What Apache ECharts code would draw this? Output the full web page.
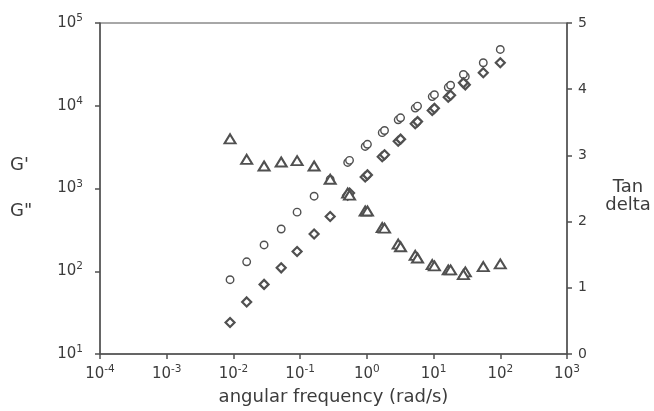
<!DOCTYPE html>
<html>
<head>
<meta charset="utf-8">
<script src="https://cdn.jsdelivr.net/npm/echarts@6/dist/echarts.min.js"></script>
<style>
html,body{margin:0;padding:0;background:#fff;}
#c{width:654px;height:411px;}
</style>
</head>
<body>
<div id="c"></div>
<script>
// Run 1 (all frequencies)
var freq1 = [0.0089, 0.0158, 0.0288, 0.052, 0.090, 0.162, 0.282, 0.516, 0.944, 1.70, 2.95, 5.31, 9.55, 16.6, 29.9, 55.6, 100];
var gPrime1 = [79, 130, 208, 324, 518, 807, 1290, 2065, 3220, 4730, 6760, 9370, 12900, 16700, 22600, 33100, 47900];
var gDouble1 = [24, 42.6, 69.4, 110, 173, 282, 459, 828, 1375, 2415, 3720, 6070, 8770, 12700, 17900, 25100, 33100];
var tanDelta1 = [3.25, 2.94, 2.84, 2.90, 2.92, 2.84, 2.64, 2.43, 2.16, 1.91, 1.66, 1.49, 1.35, 1.27, 1.24, 1.32, 1.36];
// Run 2 (replicate, mid frequencies)
var freq2 = [0.55, 1.02, 1.84, 3.2, 5.75, 10.3, 18.0, 28.0];
var gPrime2 = [2190, 3420, 5020, 7150, 9900, 13600, 17700, 23900];
var gDouble2 = [880, 1460, 2560, 3950, 6430, 9300, 13400, 18900];
var tanDelta2 = [2.40, 2.16, 1.90, 1.62, 1.45, 1.33, 1.27, 1.20];

function pairs(xs, ys){ return xs.map(function(x,i){ return [x, ys[i]]; }); }

var ink = '#505050';
var textCol = '#3c3c3c';
var font = '"DejaVu Sans", Arial, sans-serif';

function powLabel(v){
  var e = Math.round(Math.log10(v));
  return '{b|10}{s|' + String(e).replace('\u2212','-') + '}';
}
var richLab = {
  b: {fontSize: 15, color: textCol, fontFamily: font},
  s: {fontSize: 10.5, color: textCol, fontFamily: font, padding: [0,0,9,0]}
};

var markerStyle = function(bw){
  return {color: '#ffffff', borderColor: ink, borderWidth: bw, opacity: 1};
};

var chart = echarts.init(document.getElementById('c'), null, {renderer: 'canvas'});
chart.setOption({
  animation: false,
  backgroundColor: '#ffffff',
  textStyle: {fontFamily: font},
  grid: {left: 100, right: 87, top: 23, bottom: 55, show: true, borderColor: ink, borderWidth: 1, backgroundColor: 'transparent'},
  xAxis: {
    type: 'log', logBase: 10, min: 1e-4, max: 1e3,
    name: 'angular frequency (rad/s)', nameLocation: 'middle', nameGap: 34,
    nameTextStyle: {fontSize: 18, color: textCol, fontFamily: font},
    axisLine: {show: true, lineStyle: {color: ink, width: 1.5}},
    axisTick: {show: true, inside: false, length: 5, lineStyle: {color: ink, width: 1.5}},
    minorTick: {show: false},
    splitLine: {show: false},
    axisLabel: {margin: 10, formatter: powLabel, rich: richLab}
  },
  yAxis: [{
    type: 'log', logBase: 10, min: 10, max: 1e5,
    position: 'left',
    axisLine: {show: true, lineStyle: {color: ink, width: 1.5}},
    axisTick: {show: true, inside: false, length: 5, lineStyle: {color: ink, width: 1.5}},
    splitLine: {show: false},
    axisLabel: {margin: 17, formatter: powLabel, rich: richLab}
  }, {
    type: 'value', min: 0, max: 5, interval: 1,
    position: 'right',
    axisLine: {show: true, lineStyle: {color: ink, width: 1.5}},
    axisTick: {show: true, inside: false, length: 5, lineStyle: {color: ink, width: 1.5}},
    splitLine: {show: false},
    axisLabel: {margin: 11, fontSize: 14, color: textCol, fontFamily: font}
  }],
  series: [
    {name: "G'", type: 'scatter', yAxisIndex: 0, symbol: 'circle', symbolSize: 7.5,
      itemStyle: markerStyle(1.4), data: pairs(freq1, gPrime1)},
    {name: "G'", type: 'scatter', yAxisIndex: 0, symbol: 'circle', symbolSize: 7.5,
      itemStyle: markerStyle(1.4), data: pairs(freq2, gPrime2)},
    {name: "G''", type: 'scatter', yAxisIndex: 0, symbol: 'diamond', symbolSize: [9, 9],
      itemStyle: markerStyle(2.2), data: pairs(freq1, gDouble1)},
    {name: "G''", type: 'scatter', yAxisIndex: 0, symbol: 'diamond', symbolSize: [9, 9],
      itemStyle: markerStyle(2.2), data: pairs(freq2, gDouble2)},
    {name: 'Tan delta', type: 'scatter', yAxisIndex: 1, symbol: 'triangle', symbolSize: [11, 9],
      itemStyle: markerStyle(2), data: pairs(freq1, tanDelta1)},
    {name: 'Tan delta', type: 'scatter', yAxisIndex: 1, symbol: 'triangle', symbolSize: [11, 9],
      itemStyle: markerStyle(2), data: pairs(freq2, tanDelta2)}
  ],
  graphic: [
    {type: 'text', x: 10, y: 156, style: {text: "G'", fontSize: 18, fill: textCol, fontFamily: font}},
    {type: 'text', x: 10, y: 202, style: {text: 'G"', fontSize: 18, fill: textCol, fontFamily: font}},
    {type: 'text', x: 628, y: 178, style: {text: 'Tan\ndelta', fontSize: 18, lineHeight: 18, fill: textCol, fontFamily: font, align: 'center'}}
  ]
});
</script>
</body>
</html>
